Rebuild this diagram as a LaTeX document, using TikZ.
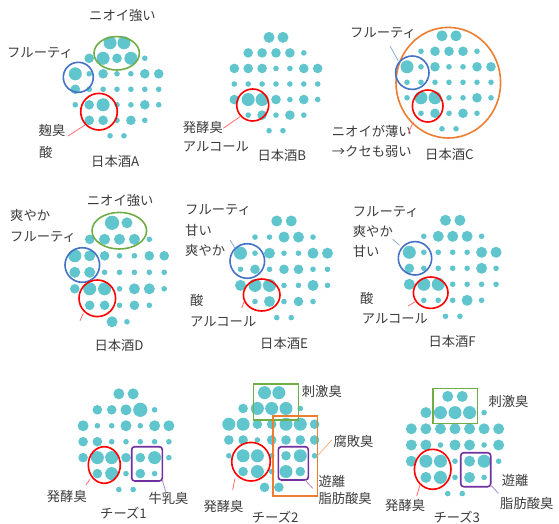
\documentclass[tikz,border=0pt]{standalone}
\usepackage{fontspec}
\setmainfont{Noto Sans CJK JP}
\definecolor{dotc}{RGB}{96,197,204}
\definecolor{cgreen}{RGB}{112,173,71}
\definecolor{cblue}{RGB}{68,114,196}
\definecolor{cred}{RGB}{255,0,0}
\definecolor{corange}{RGB}{237,125,49}
\definecolor{cpurple}{RGB}{112,48,160}
\definecolor{lred}{RGB}{255,110,110}
\definecolor{lblue}{RGB}{140,170,220}
\definecolor{lorange}{RGB}{245,175,125}
\definecolor{lpurple}{RGB}{175,135,205}
\definecolor{txt}{RGB}{60,60,60}
\def\zs{2.8}\def\zm{4.8}\def\zl{5.5}\def\zb{6.5}\def\zx{7.1}
\newcommand\setpanel[4]{\def\pcx{#1}\def\pcy{#2}\def\pdx{#3}\def\pdy{#4}}
\newcommand\prow[3]{\foreach \rr [count=\i from 0] in {#3}{\ifdim\rr pt>0pt \fill[dotc] ({\pcx+(#2+\i)*\pdx},{\pcy+(#1)*\pdy}) circle[radius=\rr pt];\fi}}
\begin{document}
\begin{tikzpicture}[x=1pt,y=-1pt,
  lbl/.style={anchor=west,inner sep=0pt,font=\fontsize{13.3}{15}\selectfont,text=txt},
  ring/.style={line width=1.6pt},
  lead/.style={line width=0.8pt}]
\useasboundingbox (0,0) rectangle (559,524);
% ---------- Sake A
\setpanel{117}{89.3}{13.9}{15.5}
\prow{-3}{-0.5}{\zb,\zb}
\prow{-2}{-2}{\zm,\zb,\zm,\zb,\zs}
\prow{-1}{-3}{\zb,\zs,\zm,\zs,\zs,\zm,\zm}
\prow{0}{-3}{\zm,\zs,\zs,\zs,\zs,\zs,\zs}
\prow{1}{-3}{\zs,\zm,\zb,\zs,\zs,\zm,\zs}
\prow{2}{-2}{\zm,\zm,\zs,\zm,\zs}
\prow{3}{-0.5}{\zs,\zs}
% ---------- Sake B
\setpanel{276}{84}{13.9}{15.55}
\prow{-3}{-0.5}{\zl,\zl}
\prow{-2}{-2}{\zm,\zm,\zm,\zm,\zs}
\prow{-1}{-3}{\zm,\zm,\zm,\zs,\zs,\zm,\zm}
\prow{0}{-3}{\zs,\zs,\zs,\zs,\zs,\zs,\zs}
\prow{1}{-3}{\zm,\zb,\zb,\zm,\zs,\zm,\zs}
\prow{2}{-2}{\zs,\zm,\zs,\zm,\zs}
\prow{3}{-0.5}{\zs,\zs}
% ---------- Sake C
\setpanel{449}{82.3}{14}{15.5}
\prow{-3}{-0.5}{\zl,\zl}
\prow{-2}{-2}{\zs,\zm,\zm,\zm,\zs}
\prow{-1}{-3}{\zb,\zs,\zm,\zs,\zs,\zm,\zm}
\prow{0}{-3}{\zs,\zs,\zs,\zs,\zs,\zs,\zs}
\prow{1}{-3}{\zs,\zb,\zb,\zs,\zs,\zm,\zs}
\prow{2}{-2}{\zs,\zm,\zs,\zm,\zs}
\prow{3}{-0.5}{\zs,\zs}
% ---------- Sake D
\setpanel{119.5}{272.3}{14.9}{16.5}
\prow{-3}{-0.5}{\zx,\zl}
\prow{-2}{-2}{\zm,\zl,\zl,\zl,\zs}
\prow{-1}{-3}{\zb,\zl,\zm,\zs,\zs,\zm,\zm}
\prow{0}{-3}{\zl,\zl,\zs,\zs,\zs,\zs,\zs}
\prow{1}{-3}{\zm,\zb,\zb,\zs,\zl,\zl,\zs}
\prow{2}{-2}{\zm,\zm,\zs,\zm,\zs}
\prow{3}{-0.5}{\zl,\zs}
% ---------- Sake E
\setpanel{284}{269.3}{14.5}{16.1}
\prow{-3}{-0.5}{\zl,\zl}
\prow{-2}{-2}{\zs,\zs,\zl,\zl,\zs}
\prow{-1}{-3}{\zb,\zs,\zl,\zs,\zs,\zl,\zl}
\prow{0}{-3}{\zs,\zm,\zs,\zm,\zm,\zs,\zs}
\prow{1}{-3}{\zl,\zb,\zb,\zs,\zs,\zl,\zs}
\prow{2}{-2}{\zs,\zl,\zs,\zm,\zs}
\prow{3}{-0.5}{\zs,\zs}
% ---------- Sake F
\setpanel{452.7}{268.3}{14.45}{16}
\prow{-3}{-0.5}{\zl,\zl}
\prow{-2}{-2}{\zs,\zl,\zl,\zl,\zs}
\prow{-1}{-3}{\zb,\zs,\zs,\zs,\zs,\zl,\zl}
\prow{0}{-3}{\zm,\zs,\zs,\zs,\zs,\zl,\zs}
\prow{1}{-3}{\zl,\zb,\zb,\zs,\zs,\zs,\zs}
\prow{2}{-2}{\zs,\zs,\zs,\zl,\zs}
\prow{3}{-0.5}{\zs,\zs}
% ---------- Cheese 1
\setpanel{126}{441.7}{14.3}{15.95}
\prow{-3}{-0.5}{\zl,\zl}
\prow{-2}{-2}{\zm,\zm,\zl,\zx,\zs}
\prow{-1}{-3}{\zl,\zs,\zs,\zl,\zs,\zl,\zl}
\prow{0}{-3}{\zm,\zm,\zs,\zs,\zs,\zs,\zs}
\prow{1}{-3}{\zm,\zb,\zb,\zm,\zm,\zb,\zs}
\prow{2}{-2}{\zm,\zb,\zs,\zm,\zs}
\prow{3}{-0.5}{\zs,\zs}
% ---------- Cheese 2
\setpanel{271.7}{440}{14.3}{15.77}
\prow{-3}{-0.5}{\zb,\zb}
\prow{-2}{-2}{\zm,\zb,\zb,\zb,\zs}
\prow{-1}{-3}{\zb,\zb,\zm,\zm,\zb,\zb,\zm}
\prow{0}{-3}{\zm,\zm,\zs,\zm,\zm,\zm,\zm}
\prow{1}{-3}{\zs,\zb,\zb,\zs,\zm,\zb,\zs}
\prow{2}{-2}{\zm,\zb,\zs,\zb,\zm}
\prow{3}{-0.5}{\zm,\zm}
% ---------- Cheese 3
\setpanel{455}{445}{14.55}{16.2}
\prow{-3}{-0.5}{\zl,\zl}
\prow{-2}{-2}{\zl,\zb,\zb,\zb,\zs}
\prow{-1}{-3}{\zl,\zl,\zl,\zl,\zl,\zl,\zl}
\prow{0}{-3}{\zl,\zl,\zs,\zl,\zl,\zs,\zl}
\prow{1}{-3}{\zl,\zb,\zb,\zs,\zl,\zb,\zs}
\prow{2}{-2}{\zl,\zb,\zs,\zl,\zs}
\prow{3}{-0.5}{\zs,\zs}

% ================= rings and boxes
% A
\draw[ring,cgreen] (116.7,53.3) ellipse[x radius=22.7pt,y radius=16.7pt];
\draw[ring,cblue] (78.3,77.3) circle[radius=15pt];
\draw[ring,cred] (99,111.7) circle[radius=18.3pt];
% B
\draw[ring,cred] (252.7,105) circle[radius=16pt];
% C
\draw[ring,corange] (448.3,82.7) ellipse[x radius=52.3pt,y radius=55.3pt];
\draw[ring,cblue] (412.3,72.7) circle[radius=16.7pt];
\draw[ring,cred] (427.7,106) ellipse[x radius=15.3pt,y radius=16pt];
% D
\draw[ring,cgreen] (119.3,230.7) ellipse[x radius=27.3pt,y radius=18.3pt];
\draw[ring,cblue] (82.3,265) circle[radius=17.3pt];
\draw[ring,cred] (97.3,298.3) circle[radius=18.3pt];
% E
\draw[ring,cblue] (247.3,261) circle[radius=17.3pt];
\draw[ring,cred] (261.7,295) ellipse[x radius=18.3pt,y radius=16pt];
% F
\draw[ring,cblue] (415,258.3) circle[radius=16.7pt];
\draw[ring,cred] (430.7,292.7) ellipse[x radius=17.3pt,y radius=15.7pt];
% Cheese 1
\draw[ring,cred] (104.3,465) ellipse[x radius=16pt,y radius=18.3pt];
\draw[ring,cpurple,rounded corners=3pt] (131.7,446.7) rectangle (162.3,481);
% Cheese 2
\draw[ring,cgreen] (253.3,384) rectangle (298.3,420);
\draw[ring,corange] (272.7,415.7) rectangle (317.3,496);
\draw[ring,cpurple,rounded corners=3pt] (278.3,446.7) rectangle (308.3,480);
\draw[ring,cred] (251,461.7) circle[radius=19.3pt];
% Cheese 3
\draw[ring,cgreen] (432.7,388.3) rectangle (477.3,423.3);
\draw[ring,cpurple,rounded corners=3pt] (460.7,452.7) rectangle (490.7,486.7);
\draw[ring,cred] (432.7,469.3) ellipse[x radius=18.3pt,y radius=20pt];

% ================= labels
% A
\node[lbl] (a1) at (89,15) {ニオイ強い};
\node[lbl] (a2) at (7,53) {フルーティ};
\node[lbl] (a3) at (38.5,130) {麹臭};
\node[lbl] (a4) at (39,152) {酸};
\node[lbl] (a5) at (91,161.7) {日本酒A};
% B
\node[lbl] (b1) at (182.7,127) {発酵臭};
\node[lbl] (b2) at (182.7,147) {アルコール};
\node[lbl] (b3) at (257.3,155) {日本酒B};
% C
\node[lbl] (c1) at (350,33) {フルーティ};
\node[lbl] (c2) at (331.7,131.7) {ニオイが薄い};
\node[lbl] (c3) at (331.7,151.7) {→クセも弱い};
\node[lbl] (c4) at (425,154) {日本酒C};
% D
\node[lbl] (d1) at (86.7,200) {ニオイ強い};
\node[lbl] (d2) at (10,215) {爽やか};
\node[lbl] (d3) at (10,236.7) {フルーティ};
\node[lbl] (d4) at (94.3,345) {日本酒D};
% E
\node[lbl] (e1) at (185,210) {フルーティ};
\node[lbl] (e2) at (185,230) {甘い};
\node[lbl] (e3) at (185,250) {爽やか};
\node[lbl] (e4) at (190,300) {酸};
\node[lbl] (e5) at (190,321.7) {アルコール};
\node[lbl] (e6) at (260,343.3) {日本酒E};
% F
\node[lbl] (f1) at (352.7,211.7) {フルーティ};
\node[lbl] (f2) at (352.7,231.7) {爽やか};
\node[lbl] (f3) at (352.7,251) {甘い};
\node[lbl] (f4) at (360,298.3) {酸};
\node[lbl] (f5) at (361.7,318.3) {アルコール};
\node[lbl] (f6) at (428.3,341.7) {日本酒F};
% Cheese 1
\node[lbl] (g1) at (46.7,496.7) {発酵臭};
\node[lbl] (g2) at (148.3,498.3) {牛乳臭};
\node[lbl] (g3) at (100,513.3) {チーズ1};
% Cheese 2
\node[lbl] (h1) at (301.7,391.7) {刺激臭};
\node[lbl] (h2) at (333.3,441.7) {腐敗臭};
\node[lbl] (h3) at (318.3,481.7) {遊離};
\node[lbl] (h4) at (318.3,498.3) {脂肪酸臭};
\node[lbl] (h5) at (203.3,506.7) {発酵臭};
\node[lbl] (h6) at (251.7,516.7) {チーズ2};
% Cheese 3
\node[lbl] (k1) at (488.3,401.7) {刺激臭};
\node[lbl] (k2) at (501.7,480) {遊離};
\node[lbl] (k3) at (500,503.3) {脂肪酸臭};
\node[lbl] (k4) at (385,505) {発酵臭};
\node[lbl] (k5) at (433.3,516.7) {チーズ3};

% ================= leader lines
\coordinate (la1) at (85,125);     \coordinate (la2) at (68,136);
\coordinate (lb1) at (240,116.7);  \coordinate (lb2) at (223.3,128.3);
\coordinate (lc1) at (398.3,61);   \coordinate (lc2) at (390,46);
\coordinate (lc3) at (413.3,121.7);\coordinate (lc4) at (408.3,133.3);
\coordinate (ld1) at (83.3,313.3); \coordinate (ld2) at (80,320.7);
\coordinate (le1) at (235,248.3);  \coordinate (le2) at (230,240);
\coordinate (le3) at (244,301.7);  \coordinate (le4) at (241.7,308.3);
\coordinate (lf1) at (399.3,245);  \coordinate (lf2) at (392.7,239.3);
\coordinate (lf3) at (415,301.7);  \coordinate (lf4) at (408.3,306);
\coordinate (lg1) at (90,479.3);   \coordinate (lg2) at (86,485);
\coordinate (lg3) at (162.3,480);  \coordinate (lg4) at (165.7,491.7);
\coordinate (lh1) at (235,478.3);  \coordinate (lh2) at (232.7,490);
\coordinate (lh3) at (317.3,456);  \coordinate (lh4) at (331.7,440);
\coordinate (lh5) at (305,480);    \coordinate (lh6) at (312.7,488.3);
\coordinate (lk1) at (420,485);    \coordinate (lk2) at (416.7,496);
\coordinate (lk3) at (490.7,485);  \coordinate (lk4) at (498.3,493.3);
\draw[lead,lred] (la1) -- (la2);
\draw[lead,lred] (lb1) -- (lb2);
\draw[lead,lblue] (lc1) -- (lc2);
\draw[lead,lred] (lc3) -- (lc4);
\draw[lead,lred] (ld1) -- (ld2);
\draw[lead,lblue] (le1) -- (le2);
\draw[lead,lred] (le3) -- (le4);
\draw[lead,lblue] (lf1) -- (lf2);
\draw[lead,lred] (lf3) -- (lf4);
\draw[lead,lred] (lg1) -- (lg2);
\draw[lead,lpurple] (lg3) -- (lg4);
\draw[lead,lred] (lh1) -- (lh2);
\draw[lead,lorange] (lh3) -- (lh4);
\draw[lead,lpurple] (lh5) -- (lh6);
\draw[lead,lred] (lk1) -- (lk2);
\draw[lead,lpurple] (lk3) -- (lk4);
\end{tikzpicture}
\end{document}
